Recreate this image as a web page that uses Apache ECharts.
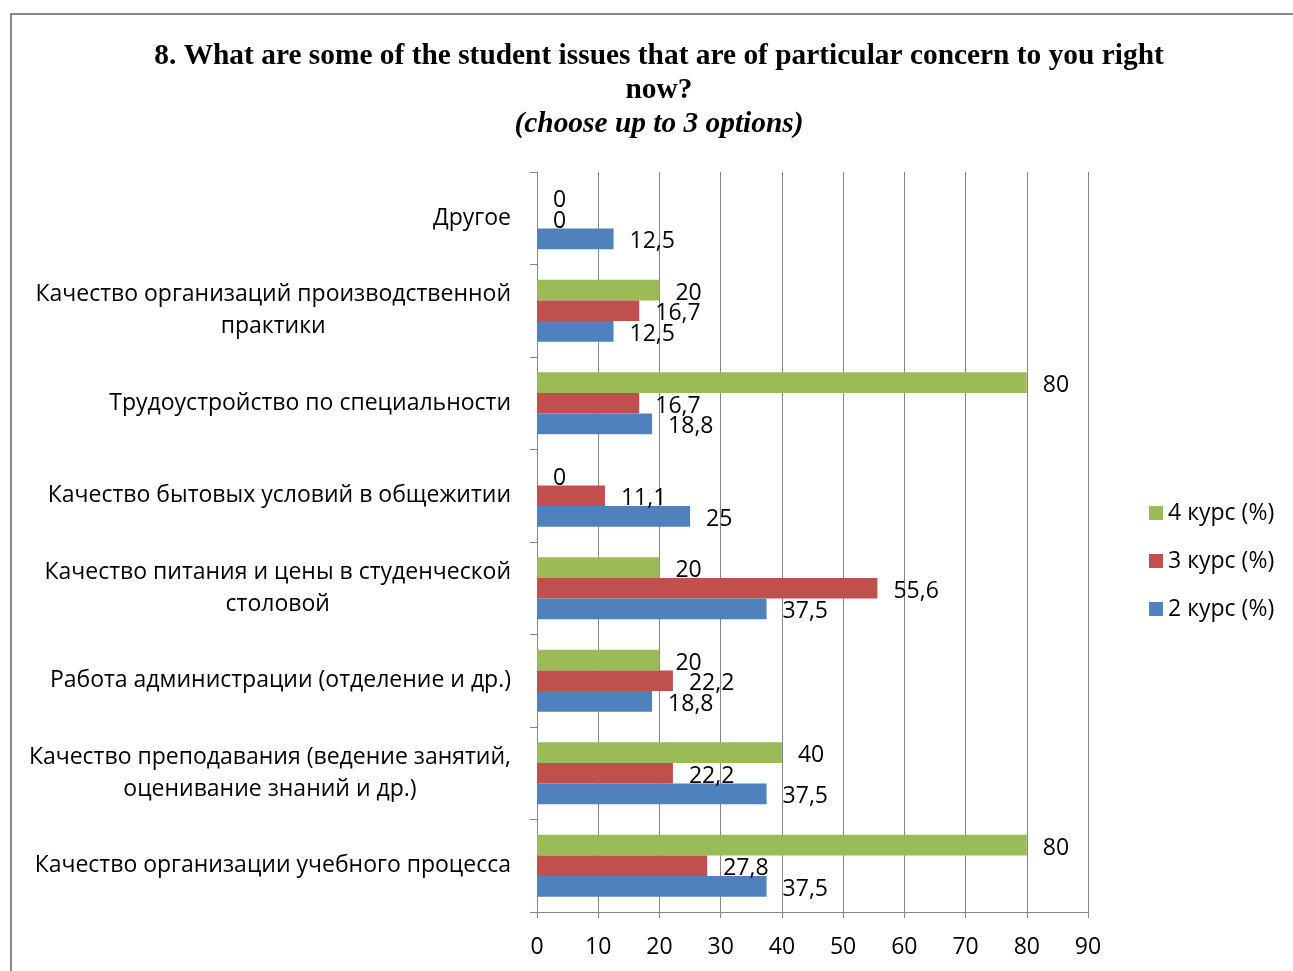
<!DOCTYPE html>
<html>
<head>
<meta charset="utf-8">
<script src="https://cdn.jsdelivr.net/npm/echarts@6/dist/echarts.min.js"></script>
<style>
html,body{margin:0;padding:0;background:#fff;}
#chart{width:1293px;height:971px;}
</style>
</head>
<body>
<div id="chart"></div>
<script>
// Categories listed bottom to top
const categories = [
  'Качество организации учебного процесса',
  'Качество преподавания (ведение занятий,\nоценивание знаний и др.)',
  'Работа администрации (отделение и др.)',
  'Качество питания и цены в студенческой\nстоловой',
  'Качество бытовых условий в общежитии',
  'Трудоустройство по специальности',
  'Качество организаций производственной\nпрактики',
  'Другое'
];
const course2 = [37.5, 37.5, 18.8, 37.5, 25, 18.8, 12.5, 12.5];
const course3 = [27.8, 22.2, 22.2, 55.6, 11.1, 16.7, 16.7, 0];
const course4 = [80, 40, 20, 20, 0, 80, 20, 0];
const seriesNames = ['4 курс (%)', '3 курс (%)', '2 курс (%)'];
const xTicks = [0, 10, 20, 30, 40, 50, 60, 70, 80, 90];

const FONT = 'Open Sans';
const FS = 23;
const labelCfg = {
  show: true,
  position: 'right',
  distance: 16,
  offset: [0, 3],
  color: '#000',
  fontFamily: FONT,
  fontSize: FS,
  formatter: p => String(p.value).replace('.', ',')
};
const colors = ['#9BBB59', '#C0504D', '#4F81BD'];
const datas = [course4, course3, course2];

const chart = echarts.init(document.getElementById('chart'));
chart.setOption({
  animation: false,
  backgroundColor: '#fff',
  title: {
    text: '8. What are some of the student issues that are of particular concern to you right\nnow?\n{i|(choose up to 3 options)}',
    left: 654,
    textAlign: 'center',
    top: 34,
    textStyle: {
      fontFamily: 'Liberation Serif',
      fontWeight: 'bold',
      fontSize: 29.4,
      lineHeight: 34,
      color: '#000',
      rich: {
        i: {fontFamily: 'Liberation Serif', fontWeight: 'bold', fontStyle: 'italic', fontSize: 29.4, lineHeight: 34, color: '#000'}
      }
    }
  },
  graphic: [{
    type: 'rect',
    shape: {x: 11, y: 14, width: 1400, height: 1100},
    style: {fill: 'none', stroke: '#878787', lineWidth: 2},
    silent: true
  }],
  legend: {
    orient: 'vertical',
    left: 1144,
    top: 496,
    itemWidth: 14,
    itemHeight: 14,
    itemGap: 24,
    icon: 'rect',
    data: ['4 курс (%)', '3 курс (%)', '2 курс (%)'],
    textStyle: {fontFamily: FONT, fontSize: FS, color: '#000', lineHeight: 24, padding: [0,0,0,0]}
  },
  grid: {left: 537, right: 205, top: 172, bottom: 59, containLabel: false},
  xAxis: {
    type: 'value',
    min: xTicks[0],
    max: xTicks[xTicks.length - 1],
    interval: 10,
    axisLine: {show: true, lineStyle: {color: '#868686', width: 1}},
    axisTick: {show: true, length: 6, lineStyle: {color: '#868686'}},
    splitLine: {show: true, lineStyle: {color: '#868686', width: 1}},
    axisLabel: {fontFamily: FONT, fontSize: FS, color: '#000', margin: 24}
  },
  yAxis: {
    type: 'category',
    data: categories,
    axisLine: {show: true, lineStyle: {color: '#868686', width: 1}},
    axisTick: {show: true, length: 7, lineStyle: {color: '#868686'}},
    splitLine: {show: false},
    axisLabel: {
      fontFamily: FONT, fontSize: FS, color: '#000', margin: 26, lineHeight: 32,
      formatter: v => v.split('\n').map(l => '{c|' + l + '}').join('\n'),
      rich: {c: {align: 'center', fontFamily: FONT, fontSize: FS, color: '#000', lineHeight: 32}}
    }
  },
  series: seriesNames.map((n, i) => ({
    name: n,
    type: 'bar',
    data: datas[i],
    itemStyle: {color: colors[i]},
    barGap: '0%',
    barCategoryGap: '33%',
    label: labelCfg
  }))
});
</script>
</body>
</html>
